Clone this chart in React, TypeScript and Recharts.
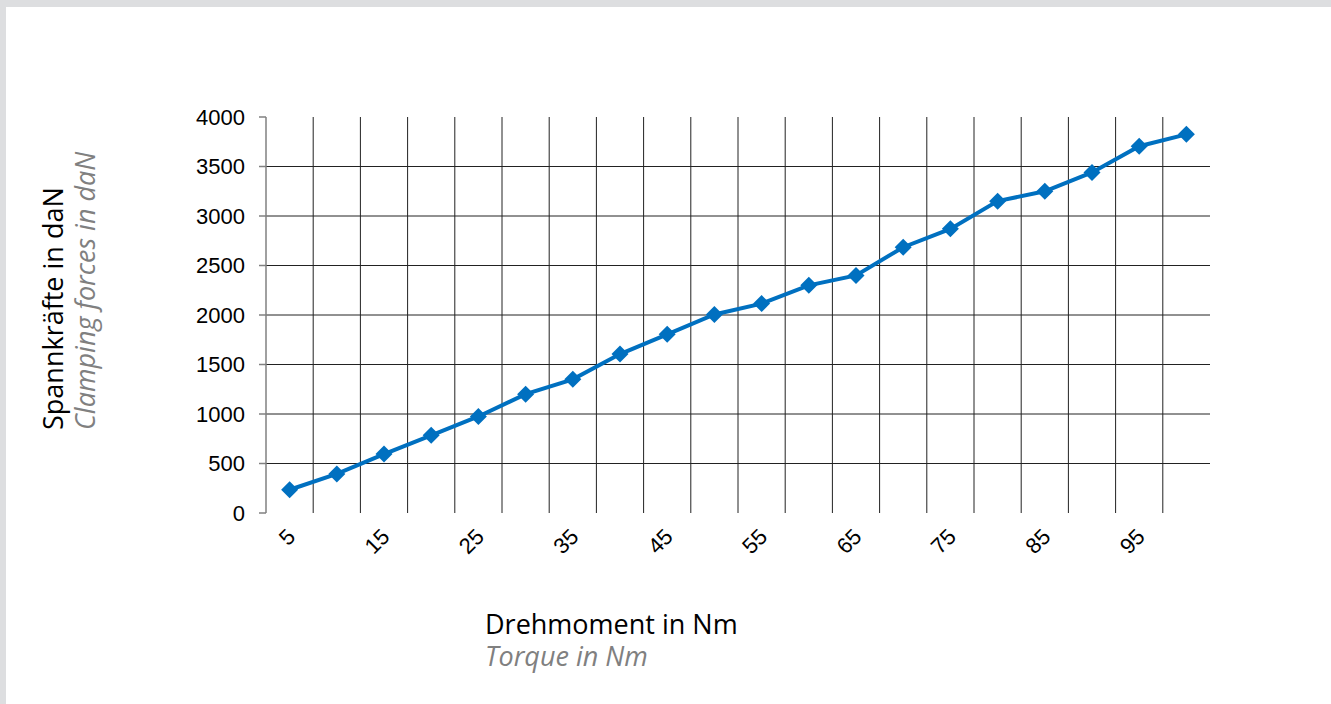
import { LineChart, Line, XAxis, YAxis, ReferenceLine } from 'recharts'

const torque = [5, 10, 15, 20, 25, 30, 35, 40, 45, 50, 55, 60, 65, 70, 75, 80, 85, 90, 95, 100]
const clampingForce = [235, 395, 595, 785, 975, 1200, 1350, 1605, 1805, 2005, 2115, 2300, 2400, 2685, 2870, 3150, 3250, 3440, 3705, 3825]
const xLabels = [5, 15, 25, 35, 45, 55, 65, 75, 85, 95]
const xBounds = [2.5, 7.5, 12.5, 17.5, 22.5, 27.5, 32.5, 37.5, 42.5, 47.5, 52.5, 57.5, 62.5, 67.5, 72.5, 77.5, 82.5, 87.5, 92.5, 97.5, 102.5]
const yTicks = [0, 500, 1000, 1500, 2000, 2500, 3000, 3500, 4000]

const data = torque.map((t, i) => ({ torque: t, force: clampingForce[i] }))

const BLUE = '#0070c0'
const FONT = '"Open Sans", sans-serif'
const TICK_FONT = '"Liberation Sans", Arial, sans-serif'

function Diamond(props: any) {
  const { cx, cy } = props
  if (cx == null || cy == null) return null
  const r = 8.5
  return (
    <polygon
      points={`${cx},${cy - r} ${cx + r},${cy} ${cx},${cy + r} ${cx - r},${cy}`}
      fill={BLUE}
    />
  )
}

function RotatedTick(props: any) {
  const { x, y, payload } = props
  return (
    <g transform={`translate(${x + 7},${y + 17})`}>
      <text
        x={0}
        y={0}
        textAnchor="end"
        transform="rotate(-45)"
        fontFamily={TICK_FONT}
        fontSize={22}
        fill="#000"
      >
        {payload.value}
      </text>
    </g>
  )
}

export default function App() {
  return (
    <div style={{ position: 'fixed', left: 0, top: 0, width: 1331, height: 704, background: '#dddee0' }}>
      <div style={{ position: 'absolute', left: 6, top: 7, width: 1325, height: 697, background: '#fff' }} />
      <div style={{ position: 'absolute', left: 0, top: 0 }}>
        <LineChart
          width={1331}
          height={704}
          data={data}
          margin={{ top: 117, right: 121, bottom: 131, left: 196 }}
        >
          <XAxis
            xAxisId="bounds"
            dataKey="torque"
            type="number"
            domain={[2.5, 102.5]}
            ticks={xBounds}
            tick={false}
            height={0}
            axisLine={{ stroke: '#808080', strokeWidth: 1.5 }}
            tickLine={{ stroke: '#808080', strokeWidth: 1.5 }}
            tickSize={7}
          />
          <XAxis
            xAxisId="labels"
            dataKey="torque"
            type="number"
            domain={[2.5, 102.5]}
            ticks={xLabels}
            axisLine={false}
            tickLine={false}
            interval={0}
            height={60}
            tick={<RotatedTick />}
          />
          <YAxis
            type="number"
            domain={[0, 4000]}
            ticks={yTicks}
            width={70}
            axisLine={{ stroke: '#808080', strokeWidth: 1.5 }}
            tickLine={{ stroke: '#808080', strokeWidth: 1.5 }}
            tickSize={7}
            tickMargin={14}
            tick={{ fill: '#000', fontSize: 22, fontFamily: TICK_FONT }}
          />
          {xBounds.slice(1, -1).map((b) => (
            <ReferenceLine key={'v' + b} xAxisId="bounds" x={b} stroke="#222" strokeWidth={1} />
          ))}
          {yTicks.slice(1, -1).map((t) => (
            <ReferenceLine key={'h' + t} xAxisId="bounds" y={t} stroke="#222" strokeWidth={1} />
          ))}
          <Line
            xAxisId="bounds"
            dataKey="force"
            type="linear"
            stroke={BLUE}
            strokeWidth={4}
            dot={<Diamond />}
            activeDot={false}
            isAnimationActive={false}
          />
        </LineChart>
      </div>
      <div
        style={{
          position: 'absolute',
          left: 37,
          top: 430,
          transform: 'rotate(-90deg)',
          transformOrigin: '0 0',
          whiteSpace: 'nowrap',
          fontFamily: FONT,
          fontSize: 27,
          lineHeight: '32px',
        }}
      >
        <div style={{ color: '#000' }}>Spannkräfte in daN</div>
        <div style={{ color: '#808080', fontStyle: 'italic' }}>Clamping forces in daN</div>
      </div>
      <div
        style={{
          position: 'absolute',
          left: 485,
          top: 608,
          whiteSpace: 'nowrap',
          fontFamily: FONT,
          fontSize: 27,
          lineHeight: '32px',
        }}
      >
        <div style={{ color: '#000' }}>Drehmoment in Nm</div>
        <div style={{ color: '#808080', fontStyle: 'italic' }}>Torque in Nm</div>
      </div>
    </div>
  )
}
